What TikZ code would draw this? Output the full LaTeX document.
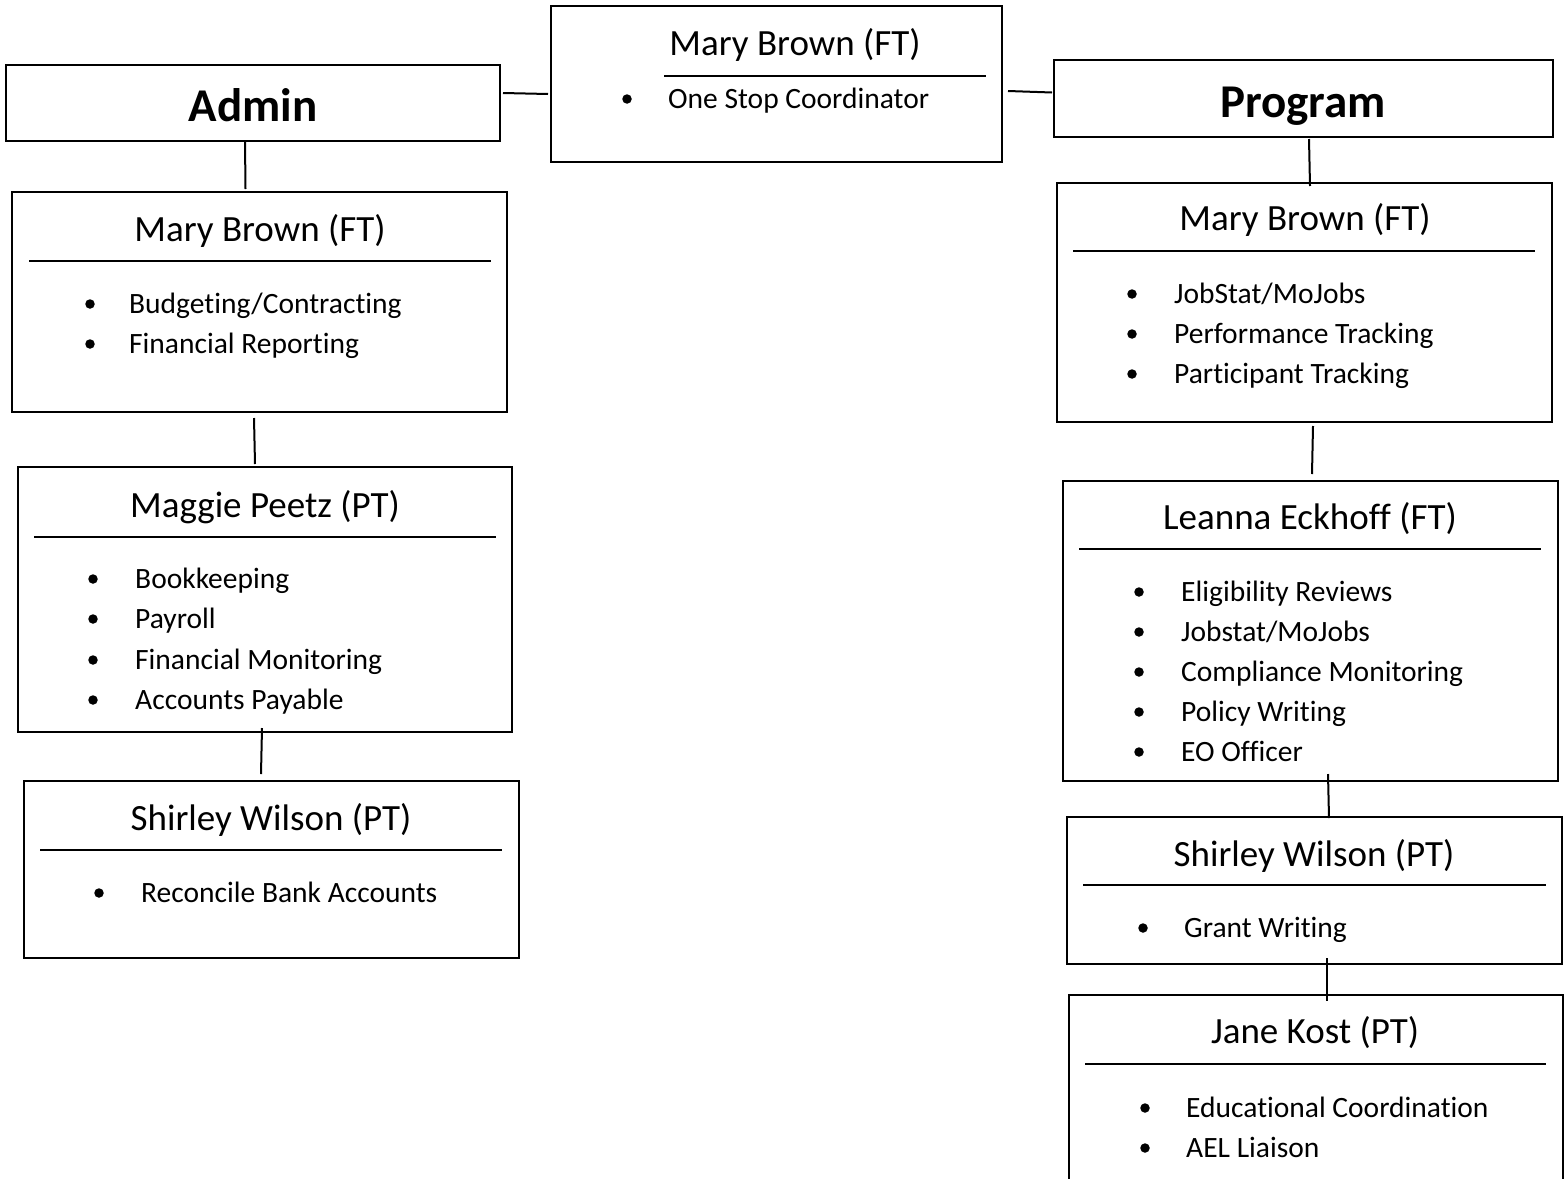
\documentclass[tikz,border=0pt]{standalone}
\usepackage{fontspec}
\setmainfont[Ligatures={NoCommon,NoContextual,NoRequired},RawFeature={-calt}]{Carlito}
\begin{document}
\begin{tikzpicture}[x=1pt,y=-1pt,
  box/.style={draw, line width=2pt, rectangle, inner sep=0pt, outer sep=0pt, anchor=north west},
  head/.style={font=\fontsize{47}{50}\selectfont\bfseries, anchor=base, inner sep=0pt},
  title/.style={font=\fontsize{37}{40}\selectfont, anchor=base, inner sep=0pt},
  item/.style={font=\fontsize{29.5}{32}\selectfont, anchor=base west, inner sep=0pt},
  dot/.style={circle, fill=black, minimum size=9.5pt, inner sep=0pt},
  rule/.style={line width=1.8pt},
  conn/.style={line width=2pt}]
\useasboundingbox (0,0) rectangle (1565,1178);
\newcommand\bitem[5]{\node[dot] (#1-d) at (#2,#3) {}; \node[item] (#1) at (#4,#3+9) {#5};}
% boxes
\node[box, minimum width=494pt, minimum height=76pt] (admin) at (6,65) {};
\node[head] (admint) at (253,121) {Admin};
\node[box, minimum width=451pt, minimum height=156pt] (ctr) at (551,6) {};
\node[title] (ctrt) at (795,55) {Mary Brown (FT)};
\draw[rule] (664,76) -- (986,76);
\bitem{ctr1}{627}{99}{668}{One Stop Coordinator}
\node[box, minimum width=499pt, minimum height=77pt] (prog) at (1054,60) {};
\node[head] (progt) at (1303,117) {Program};
% left column
\node[box, minimum width=495pt, minimum height=220pt] (mb1) at (12,192) {};
\node[title] (mb1t) at (260,241) {Mary Brown (FT)};
\draw[rule] (29,261) -- (491,261);
\bitem{mb1a}{90}{304}{129}{Budgeting/Contracting}
\bitem{mb1b}{90}{344}{129}{Financial Reporting}
\node[box, minimum width=494pt, minimum height=265pt] (mp) at (18,467) {};
\node[title] (mpt) at (265,517) {Maggie Peetz (PT)};
\draw[rule] (34,537) -- (496,537);
\bitem{mpa}{93}{579}{135}{Bookkeeping}
\bitem{mpb}{93}{619}{135}{Payroll}
\bitem{mpc}{93}{660}{135}{Financial Monitoring}
\bitem{mpd}{93}{700}{135}{Accounts Payable}
\node[box, minimum width=495pt, minimum height=177pt] (sw1) at (24,781) {};
\node[title] (sw1t) at (271,830) {Shirley Wilson (PT)};
\draw[rule] (40,850) -- (502,850);
\bitem{sw1a}{99}{893}{141}{Reconcile Bank Accounts}
% right column
\node[box, minimum width=495pt, minimum height=239pt] (mb2) at (1057,183) {};
\node[title] (mb2t) at (1305,230) {Mary Brown (FT)};
\draw[rule] (1073,251) -- (1535,251);
\bitem{mb2a}{1132}{294}{1174}{JobStat/MoJobs}
\bitem{mb2b}{1132}{334}{1174}{Performance Tracking}
\bitem{mb2c}{1132}{374}{1174}{Participant Tracking}
\node[box, minimum width=495pt, minimum height=300pt] (le) at (1063,481) {};
\node[title] (let) at (1310,529) {Leanna Eckhoff (FT)};
\draw[rule] (1079,549) -- (1541,549);
\bitem{lea}{1139}{592}{1181}{Eligibility Reviews}
\bitem{leb}{1139}{632}{1181}{Jobstat/MoJobs}
\bitem{lec}{1139}{672}{1181}{Compliance Monitoring}
\bitem{led}{1139}{712}{1181}{Policy Writing}
\bitem{lee}{1139}{752}{1181}{EO Officer}
\node[box, minimum width=495pt, minimum height=147pt] (sw2) at (1067,817) {};
\node[title] (sw2t) at (1314,866) {Shirley Wilson (PT)};
\draw[rule] (1083,885) -- (1546,885);
\bitem{sw2a}{1143}{928}{1184}{Grant Writing}
\node[box, minimum width=494pt, minimum height=215pt] (jk) at (1069,995) {};
\node[title] (jkt) at (1315,1043) {Jane Kost (PT)};
\draw[rule] (1085,1064) -- (1546,1064);
\bitem{jka}{1145}{1108}{1186}{Educational Coordination}
\bitem{jkb}{1145}{1148}{1186}{AEL Liaison}
% connectors
\draw[conn] ([xshift=3pt,yshift=10pt]admin.east) -- ([xshift=-3pt,yshift=-10pt]ctr.west);
\draw[conn] ([xshift=6pt,yshift=-7pt]ctr.east) -- ([xshift=-2pt,yshift=6pt]prog.west);
\draw[conn] ([xshift=-8pt]admin.south) -- ([xshift=-14pt,yshift=3pt]mb1.north);
\draw[conn] ([xshift=-5.5pt,yshift=-6pt]mb1.south) -- ([xshift=-10pt,yshift=3pt]mp.north);
\draw[conn] ([xshift=-3pt,yshift=4pt]mp.south) -- ([xshift=-10.5pt,yshift=7pt]sw1.north);
\draw[conn] ([xshift=5.5pt,yshift=-2pt]prog.south) -- ([xshift=5.5pt,yshift=-3pt]mb2.north);
\draw[conn] ([xshift=8.5pt,yshift=-4pt]mb2.south) -- ([xshift=1.5pt,yshift=7pt]le.north);
\draw[conn] ([xshift=17.5pt,yshift=7pt]le.south) -- ([xshift=14.5pt,yshift=-1pt]sw2.north);
\draw[conn] ([xshift=12.5pt,yshift=6pt]sw2.south) -- ([xshift=11pt,yshift=-6pt]jk.north);
\end{tikzpicture}
\end{document}
